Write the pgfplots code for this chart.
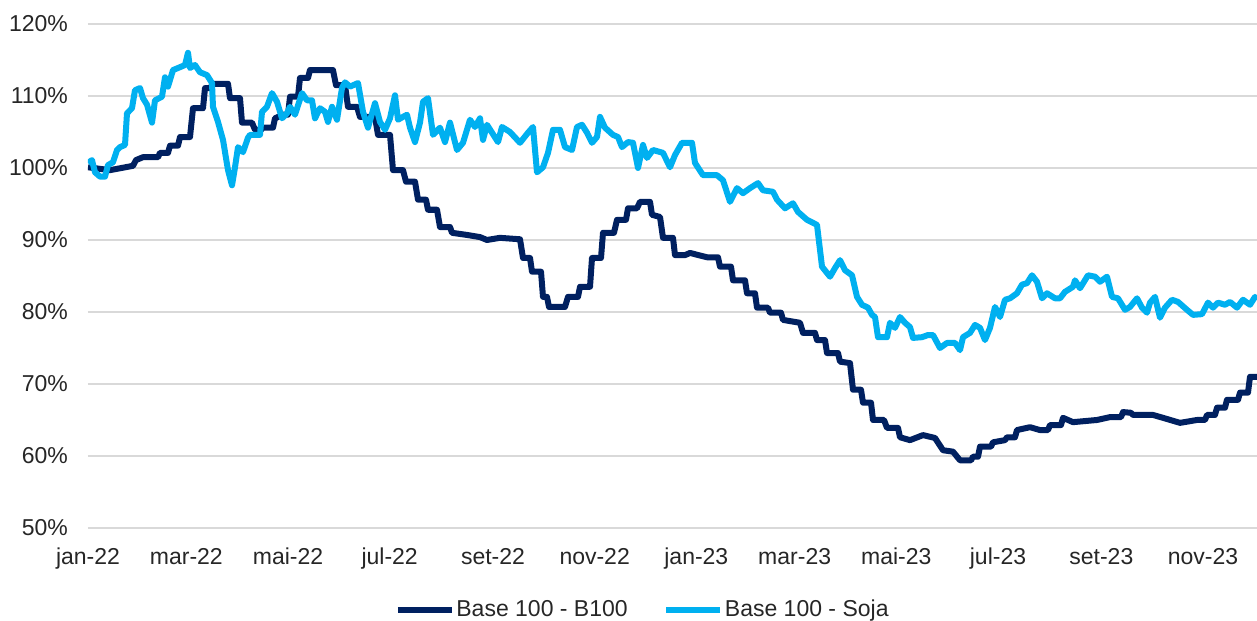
\documentclass[border=0pt]{standalone}
\usepackage{pgfplots}
\pgfplotsset{compat=1.18}
\usepackage{fontspec}
\setmainfont{Liberation Sans}
\usetikzlibrary{calc}
\definecolor{navy}{HTML}{002060}
\definecolor{sky}{HTML}{00B0F0}
\definecolor{gridc}{HTML}{D9D9D9}
\definecolor{txt}{HTML}{262626}
\begin{document}
\begin{tikzpicture}
\begin{axis}[
    scale only axis,
    width=584.5pt, height=252pt,
    font=\fontsize{11.5}{13}\selectfont\color{txt},
    xmin=0, xmax=701.4,
    ymin=50, ymax=120,
    axis line style={draw=none},
    major tick length=0pt,
    ymajorgrids=true,
    grid style={gridc, line width=1pt},
    ytick={50,60,70,80,90,100,110,120},
    yticklabels={50\%,60\%,70\%,80\%,90\%,100\%,110\%,120\%},
    yticklabel style={xshift=-6.5pt},
    xtick={0,59,120,181,243,304,365,424,485,546,608,669},
    xticklabels={jan-22,mar-22,mai-22,jul-22,set-22,nov-22,jan-23,mar-23,mai-23,jul-23,set-23,nov-23},
    xticklabel style={yshift=-6.5pt},
    legend columns=2,
    legend style={at={(0.5,-0.163)}, anchor=center, xshift=-15pt, draw=none, fill=none,
      font=\fontsize{11.5}{13}\selectfont\color{txt},
      nodes={inner xsep=0.8pt},
      /tikz/every even column/.style={column sep=17pt}},
    legend image code/.code={\draw[#1, line width=3pt] (0pt,0pt) -- (27pt,0pt);},
    legend cell align=left,
  ]
  % Base 100 - B100
  \addplot[navy, line width=3pt, line join=round] coordinates {
    (0,100.1) (13.2,99.7) (27,100.3) (28.8,101.1) (33,101.5) (42,101.5)
    (43.2,102.1) (48,102.1) (49.2,103.1) (54,103.1) (55.2,104.3) (61.2,104.3)
    (63,108.3) (69,108.3) (70.2,111.1) (73.2,111.1) (75,111.7) (84,111.7)
    (85.2,109.7) (91.2,109.7) (92.4,106.3) (98.4,106.3) (100.2,105.3) (103.8,105.3)
    (105,105.6) (111,105.6) (112.2,106.9) (117,107.4) (120,107.4) (121.2,109.9)
    (126,109.9) (127.2,112.5) (132,112.5) (133.2,113.6) (147,113.6) (148.8,111.5)
    (154.2,111.5) (156,108.5) (161.4,108.5) (163.2,107.1) (172.2,107.1) (174,104.6)
    (181.2,104.6) (183,99.7) (189,99.7) (190.8,98.1) (196.2,98.1) (198,95.6)
    (202.8,95.6) (204,94.2) (209.4,94.2) (211.2,91.8) (217.2,91.8) (218.4,91.0)
    (227.4,90.7) (235.2,90.4) (239.4,90.0) (247.2,90.3) (259.2,90.1) (261,87.5)
    (265.2,87.5) (266.4,85.6) (271.8,85.6) (273,82.1) (275.4,82.1) (276.6,80.7)
    (286.2,80.7) (288,82.1) (294,82.1) (295.2,83.5) (301.2,83.5) (302.4,87.5)
    (307.8,87.5) (309,91.0) (315.6,91.0) (317.4,92.8) (322.8,92.8) (324,94.4)
    (329.4,94.4) (331.2,95.3) (337.2,95.3) (338.4,93.5) (343.2,93.2) (345,90.3)
    (351,90.3) (352.2,87.9) (358.2,87.9) (361.2,88.2) (371.4,87.6) (378,87.6)
    (379.2,86.3) (385.8,86.3) (387,84.4) (394.2,84.4) (395.4,82.6) (400.2,82.6)
    (401.4,80.6) (408,80.6) (409.2,79.9) (415.8,79.9) (417,78.9) (427.2,78.5)
    (429,77.1) (436.2,77.1) (437.4,76.1) (442.2,76.1) (443.4,74.3) (450,74.3)
    (451.2,73.1) (457.2,72.9) (459,69.2) (463.8,69.2) (465,67.4) (469.8,67.4)
    (471,65.0) (477.6,65.0) (479.4,63.9) (486,63.9) (487.2,62.6) (493.2,62.2)
    (501,62.9) (508.2,62.5) (513,60.8) (519,60.6) (523.2,59.4) (529.8,59.4)
    (531,59.9) (534,59.9) (535.2,61.3) (541.8,61.3) (543,61.9) (550.2,62.2)
    (551.4,62.6) (556.2,62.6) (557.4,63.6) (565.2,64.0) (571.2,63.6) (576,63.6)
    (577.2,64.3) (583.8,64.3) (585,65.3) (591,64.7) (605.4,65.0) (613.2,65.4)
    (619.8,65.4) (621,66.1) (625.8,66.0) (627,65.7) (639,65.7) (645,65.3)
    (655.2,64.6) (665.4,65.0) (670.2,65.0) (671.4,65.7) (676.2,65.7) (677.4,66.7)
    (682.2,66.7) (683.4,67.8) (690,67.8) (691.2,68.8) (696,68.8) (697.2,71.0)
    (701.4,71.0)
  };
  \addlegendentry{Base 100 - B100}
  % Base 100 - Soja
  \addplot[sky, line width=3pt, line join=round] coordinates {
    (0,100.7) (2.4,101.1) (4.2,99.4) (7.2,98.8) (10.2,98.8) (12,100.4)
    (15,100.8) (17.4,102.5) (19.2,102.9) (22.2,103.2) (23.4,107.6) (26.4,108.3)
    (28.2,110.8) (31.2,111.1) (33,109.7) (35.4,108.8) (38.4,106.3) (40.2,109.4)
    (44.4,109.9) (46.2,112.6) (48,111.3) (51,113.6) (55.2,114.0) (58.2,114.3)
    (60,116.0) (61.2,113.9) (64.2,114.3) (67.2,113.3) (71.4,112.9) (74.4,111.8)
    (75,108.5) (78,106.4) (81,103.9) (84,99.7) (86.4,97.6) (88.2,100.1)
    (90,102.9) (93,102.2) (96,104.2) (97.2,104.6) (103.2,104.6) (104.4,107.8)
    (107.4,108.5) (110.4,110.4) (113.4,109.2) (116.4,106.9) (119.4,107.6) (121.2,108.5)
    (124.2,107.4) (128.4,110.4) (131.4,109.4) (134.4,109.4) (136.2,106.9) (139.2,108.3)
    (142.2,107.8) (144,106.4) (146.4,108.5) (149.4,106.7) (152.4,111.1) (154.2,111.9)
    (157.2,111.3) (162,111.8) (165,107.8) (168,105.6) (172.2,109.0) (175.2,106.4)
    (178.2,105.3) (181.2,106.9) (184.2,110.1) (186,106.7) (189,107.1) (191.4,107.4)
    (193.2,105.6) (196.2,103.6) (199.2,106.3) (201,109.2) (204,109.7) (207,104.6)
    (211.2,105.6) (214.2,103.6) (217.2,106.3) (221.4,102.5) (225,103.5) (229.2,106.7)
    (232.2,105.7) (235.2,106.9) (237,103.9) (239.4,106.0) (246,103.6) (248.4,105.7)
    (253.2,105.0) (259.2,103.5) (264,104.9) (267,105.7) (269.4,99.4) (273,100.1)
    (276,102.1) (279,105.3) (283.2,105.3) (286.2,102.9) (290.4,102.5) (293.4,105.7)
    (296.4,106.0) (299.4,104.9) (302.4,103.5) (305.4,104.3) (307.2,107.1) (310.2,105.6)
    (315,104.6) (318,104.3) (320.4,102.9) (324,103.6) (327,103.5) (330,100.0)
    (333,103.2) (335.4,101.4) (339,102.5) (345,102.1) (349.2,100.1) (352.2,101.8)
    (356.4,103.5) (362.4,103.5) (364.2,100.7) (369,99.0) (377.4,99.0) (381,98.3)
    (385.2,95.3) (389.4,97.2) (393,96.5) (397.2,97.2) (402,97.9) (405,96.9)
    (411,96.7) (413.4,95.6) (418.2,94.4) (423,95.1) (426,93.9) (431.4,92.8)
    (437.4,92.1) (440.4,86.3) (445.2,84.9) (448.2,86.1) (451.2,87.2) (454.2,85.8)
    (458.4,85.1) (461.4,82.1) (464.4,81.0) (468,80.6) (470.4,79.6) (472.2,79.3)
    (474,76.5) (479.4,76.5) (481.2,78.5) (484.2,77.8) (487.2,79.3) (490.2,78.5)
    (493.2,77.9) (495,76.4) (500.4,76.5) (504,76.8) (507,76.8) (511.2,75.0)
    (515.4,75.7) (520.2,75.7) (523.2,74.7) (525,76.5) (529.2,77.1) (532.2,78.2)
    (535.2,77.8) (538.2,76.1) (541.2,77.8) (544.2,80.7) (547.2,79.3) (550.2,81.7)
    (553.2,81.9) (557.4,82.6) (560.4,83.8) (563.4,84.0) (566.4,85.1) (569.4,84.2)
    (572.4,81.9) (575.4,82.6) (580.2,81.9) (583.2,81.9) (586.2,82.8) (591,83.5)
    (592.2,84.4) (595.2,83.3) (600,85.1) (604.2,84.9) (607.2,84.2) (611.4,84.9)
    (614.4,82.1) (618,81.9) (622.2,80.3) (625.2,80.7) (629.4,81.9) (632.4,80.6)
    (635.4,79.9) (637.2,81.3) (640.2,82.1) (643.2,79.2) (646.2,80.6) (650.4,81.7)
    (654,81.4) (659.4,80.3) (663,79.6) (668.4,79.7) (672,81.3) (675,80.6)
    (678,81.3) (682.2,81.0) (685.2,81.4) (689.4,80.6) (693,81.7) (697.2,81.0)
    (700.2,82.1) (701.4,81.7)
  };
  \addlegendentry{Base 100 - Soja}
\end{axis}
\pgfresetboundingbox
\path ($(current axis.south west)+(-44pt,-46.5pt)$) rectangle ($(current axis.north east)+(0pt,12pt)$);
\end{tikzpicture}
\end{document}
